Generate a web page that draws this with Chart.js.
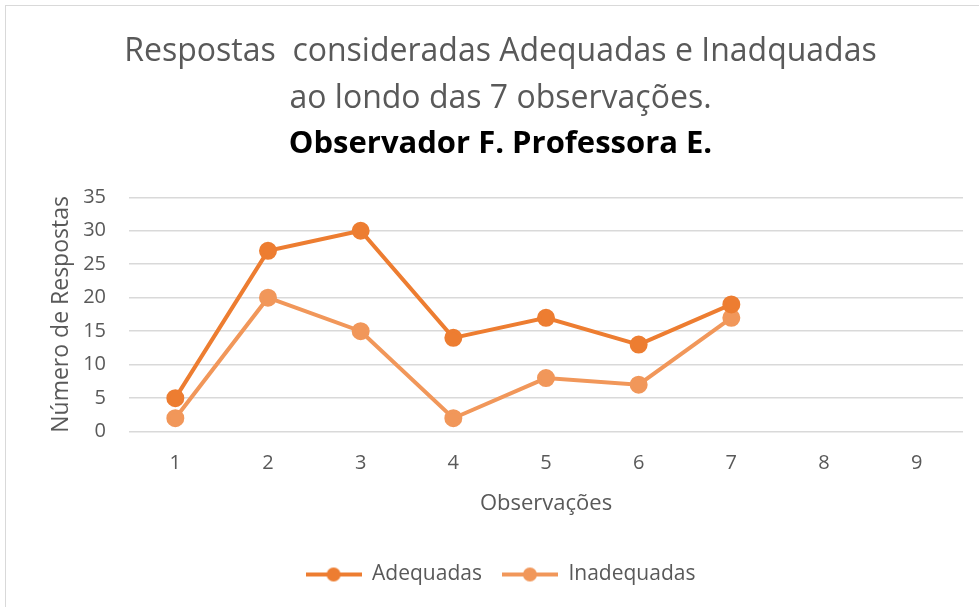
<!DOCTYPE html>
<html>
<head>
<meta charset="utf-8">
<script src="https://cdn.jsdelivr.net/npm/chart.js@4"></script>
<style>
	html, body { margin: 0; padding: 0; background: #fff; }
	#wrap { position: relative; width: 979px; height: 607px; overflow: hidden; }
	#frame { position: absolute; left: 5px; top: 5px; width: 980px; height: 620px; border: 1px solid #d9d9d9; box-sizing: border-box; }
	canvas { position: absolute; left: 0; top: 0; }
</style>
</head>
<body>
<div id="wrap">
	<div id="frame"></div>
	<canvas id="lineChart" width="979" height="607"></canvas>
</div>
<script>
// observations chart
const observacoes = ['1', '2', '3', '4', '5', '6', '7', '8', '9'];
const adequadas = [5, 27, 30, 14, 17, 13, 19];
const inadequadas = [2, 20, 15, 2, 8, 7, 17];
const yTicks = [0, 5, 10, 15, 20, 25, 30, 35];

const grey = '#595959';
const colorAdequadas = '#ED7D31';
const colorInadequadas = '#F1975A';
const ctx = document.getElementById('lineChart').getContext('2d');

// legend marker: short line with a dot in the middle
function legendMarker(color)
{
	const c = document.createElement('canvas');
	c.width = 56;
	c.height = 16;
	const g = c.getContext('2d');
	g.strokeStyle = color;
	g.lineWidth = 4;
	g.beginPath();
	g.moveTo(0, 8);
	g.lineTo(56, 8);
	g.stroke();
	g.fillStyle = color;
	g.beginPath();
	g.arc(28, 8, 7, 0, Math.PI * 2);
	g.fill();
	return c;
}

const markers = [legendMarker(colorAdequadas), legendMarker(colorInadequadas)];

const chart = new Chart(ctx, {
	type: 'line',
	data: {
		labels: observacoes,
		datasets: [{
				label: 'Adequadas',
				data: adequadas,
				borderColor: colorAdequadas,
				backgroundColor: colorAdequadas,
				borderWidth: 4,
				pointRadius: 7,
				pointHoverRadius: 7,
				tension: 0
			},
			{
				label: 'Inadequadas',
				data: inadequadas,
				borderColor: colorInadequadas,
				backgroundColor: colorInadequadas,
				borderWidth: 4,
				pointRadius: 7,
				pointHoverRadius: 7,
				tension: 0
			}]
	},
	options: {
		responsive: false,
		animation: false,
		layout: { padding: { top: 28, left: 38, right: 16, bottom: 12 } },
		plugins: {
			title: {
				display: true,
				text: ['Respostas  consideradas Adequadas e Inadquadas', 'ao londo das 7 observações.'],
				color: grey,
				font: { family: 'Open Sans', size: 32, weight: 'normal', lineHeight: 1.47 },
				padding: { top: 0, bottom: 0 }
			},
			subtitle: {
				display: true,
				text: 'Observador F. Professora E.',
				color: '#000',
				font: { family: 'Open Sans', size: 31, weight: 'bold', lineHeight: 1.2 },
				padding: { top: 3, bottom: 35 }
			},
			legend: {
				position: 'bottom',
				labels: {
					color: grey,
					font: { family: 'Open Sans', size: 21 },
					usePointStyle: true,
					pointStyleWidth: 56,
					padding: 20,
					generateLabels: (c) => Chart.defaults.plugins.legend.labels.generateLabels(c).map((item, i) => {
						item.pointStyle = markers[i];
						return item;
					})
				}
			},
			tooltip: { enabled: false }
		},
		scales: {
			x: {
				offset: true,
				grid: { display: false },
				border: { display: false },
				ticks: { color: grey, font: { family: 'Open Sans', size: 20 }, padding: 12 },
				title: {
					display: true,
					text: 'Observações',
					color: grey,
					font: { family: 'Open Sans', size: 22 },
					padding: { top: 3, bottom: 27 }
				}
			},
			y: {
				min: 0,
				max: 35,
				afterBuildTicks: (axis) => { axis.ticks = yTicks.map(v => ({ value: v })); },
				afterFit: (axis) => { axis.width = 91; },
				grid: { color: '#d9d9d9', lineWidth: 1.5, drawTicks: false },
				border: { display: false },
				ticks: { color: grey, font: { family: 'Open Sans', size: 20 }, padding: 23 },
				title: {
					display: true,
					text: 'Número de Respostas',
					color: grey,
					font: { family: 'Open Sans', size: 23 },
					padding: { top: 10, bottom: 0 }
				}
			}
		}
	}
});
</script>
</body>
</html>
